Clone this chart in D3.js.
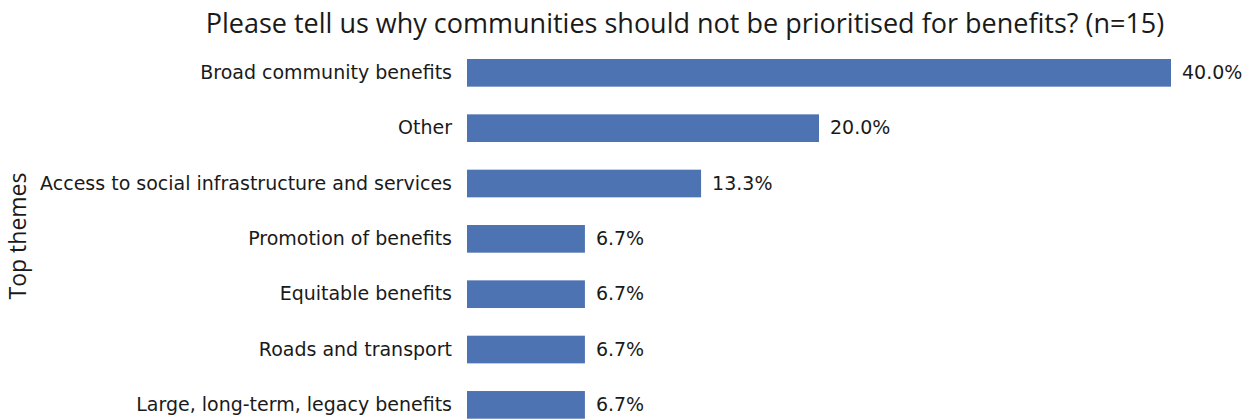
<!DOCTYPE html>
<html>
<head>
<meta charset="utf-8">
<script src="https://cdn.jsdelivr.net/npm/d3@7"></script>
<style>
  html, body { margin: 0; padding: 0; background: #fff; }
  svg text { fill: #1a1a1a; }
</style>
</head>
<body>
<svg id="chart" width="1248" height="419"></svg>
<script>
// Share of responses per theme (percent), top to bottom
const themes = [
  "Broad community benefits",
  "Other",
  "Access to social infrastructure and services",
  "Promotion of benefits",
  "Equitable benefits",
  "Roads and transport",
  "Large, long-term, legacy benefits"
];
const shares = [40.0, 20.0, 13.3, 6.7, 6.7, 6.7, 6.7];

const titleText = "Please tell us why communities should not be prioritised for benefits? (n=15)";
const yAxisTitle = "Top themes";

const svg = d3.select("#chart");

const x = d3.scaleLinear().domain([0, 40]).range([467, 1171]);
const y = d3.scaleBand().domain(themes).range([59, 418.7]).paddingInner(0.5).paddingOuter(0);

// Bars
svg.append("g").selectAll("rect")
  .data(themes)
  .join("rect")
  .attr("x", x(0))
  .attr("y", d => y(d))
  .attr("width", (d, i) => x(shares[i]) - x(0))
  .attr("height", y.bandwidth())
  .attr("fill", "#4e73b2");

// Category labels via the band axis (no line, no ticks)
const yAxis = svg.append("g")
  .attr("transform", `translate(${x(0)},0)`)
  .call(d3.axisLeft(y).tickSize(0).tickPadding(15));
yAxis.select(".domain").remove();
yAxis.selectAll("text")
  .style("font-family", "'DejaVu Sans', sans-serif")
  .style("font-size", "19px")
  .style("fill", "#1a1a1a");

// Value labels
svg.append("g").selectAll("text")
  .data(themes)
  .join("text")
  .attr("x", (d, i) => x(shares[i]) + 11)
  .attr("y", d => y(d) + y.bandwidth() / 2)
  .attr("dy", "0.32em")
  .style("font-family", "'DejaVu Sans', sans-serif")
  .style("font-size", "19px")
  .text((d, i) => shares[i].toFixed(1) + "%");

// Title
svg.append("text")
  .attr("x", 685)
  .attr("y", 33)
  .attr("text-anchor", "middle")
  .style("font-family", "'Open Sans', sans-serif")
  .style("font-size", "27px")
  .text(titleText);

// Y axis title
svg.append("text")
  .attr("transform", "translate(26,236) rotate(-90)")
  .attr("text-anchor", "middle")
  .style("font-family", "'Open Sans', sans-serif")
  .style("font-size", "23px")
  .text(yAxisTitle);
</script>
</body>
</html>
